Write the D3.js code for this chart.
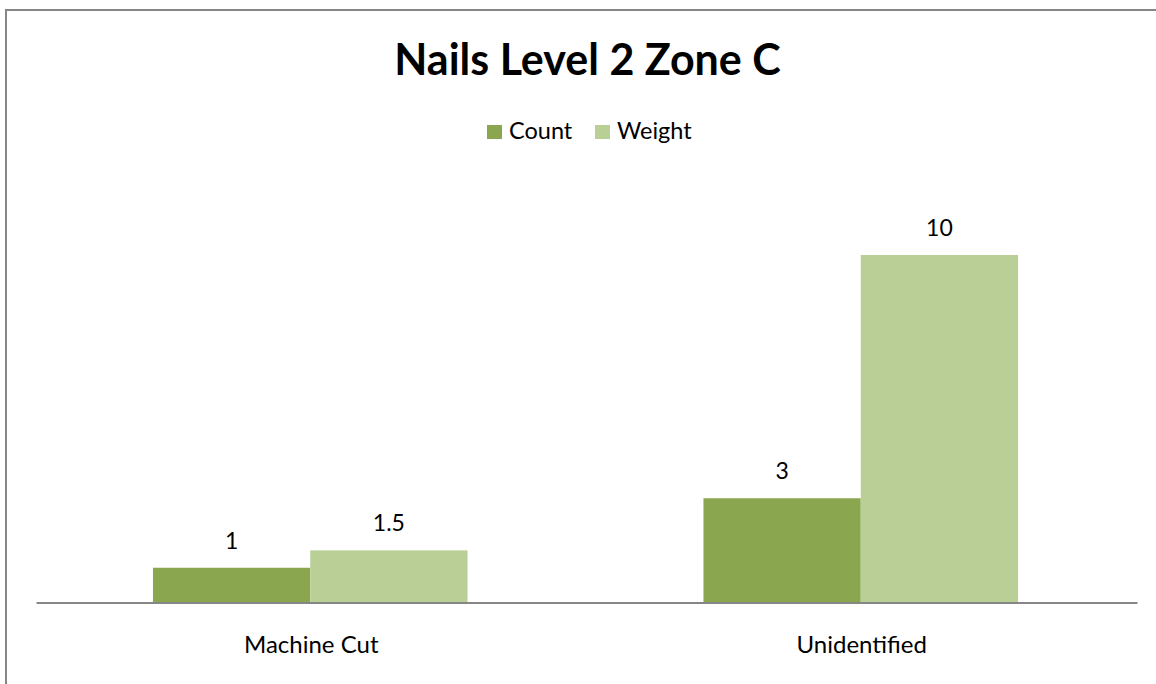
<!DOCTYPE html>
<html>
<head>
<meta charset="utf-8">
<script src="https://cdn.jsdelivr.net/npm/d3@7"></script>
<style>
  html, body { margin: 0; padding: 0; background: #fff; }
  svg { display: block; }
  text { font-family: Lato, "Open Sans", sans-serif; fill: #000; }
</style>
</head>
<body>
<svg id="chart" width="1156" height="684"></svg>
<script>
// Data
const chartTitle = "Nails Level 2 Zone C";
const categories = ["Machine Cut", "Unidentified"];
const seriesNames = ["Count", "Weight"];
const countValues = [1, 3];
const weightValues = [1.5, 10];
const seriesColors = ["#8aa64e", "#bacf96"];

const svg = d3.select("#chart");
const W = 1156, H = 684;

// Chart frame (extends past the right and bottom edges)
svg.append("rect")
  .attr("x", 6).attr("y", 10)
  .attr("width", W + 20).attr("height", H + 20)
  .attr("fill", "#fff")
  .attr("stroke", "#868686").attr("stroke-width", 2);

// Plot area
const plot = { left: 36, right: 1137, top: 185.5, bottom: 602.5 };

const x0 = d3.scaleBand()
  .domain(categories)
  .range([plot.left, plot.right])
  .paddingInner(0).paddingOuter(0);

// Two bars per category, gap of 1.5 bar widths split on both sides
const barW = x0.bandwidth() / 3.5;
const x1 = d3.scaleBand()
  .domain(seriesNames)
  .range([0, barW * 2]);

const y = d3.scaleLinear()
  .domain([0, 12])
  .range([plot.bottom, plot.top]);

const rows = categories.map((c, i) => ({
  category: c,
  values: [
    { series: seriesNames[0], value: countValues[i], color: seriesColors[0] },
    { series: seriesNames[1], value: weightValues[i], color: seriesColors[1] }
  ]
}));

const groups = svg.append("g").selectAll("g")
  .data(rows)
  .join("g")
  .attr("transform", d => `translate(${x0(d.category) + (x0.bandwidth() - barW * 2) / 2 - 1},0)`);

groups.selectAll("rect")
  .data(d => d.values)
  .join("rect")
  .attr("x", d => x1(d.series))
  .attr("y", d => y(d.value))
  .attr("width", x1.bandwidth())
  .attr("height", d => y(0) - y(d.value))
  .attr("fill", d => d.color);

// Value labels
groups.selectAll("text.value")
  .data(d => d.values)
  .join("text")
  .attr("class", "value")
  .attr("x", d => x1(d.series) + x1.bandwidth() / 2)
  .attr("y", d => y(d.value) - 19)
  .attr("text-anchor", "middle")
  .style("font-size", "23px")
  .text(d => d.value);

// Category axis
const xAxis = svg.append("g")
  .attr("transform", `translate(0,${plot.bottom})`)
  .call(d3.axisBottom(x0).tickSize(0).tickPadding(0));
xAxis.select(".domain")
  .attr("stroke", "#868686").attr("stroke-width", 2);
xAxis.selectAll(".tick text")
  .attr("dy", null)
  .attr("y", 50.5)
  .style("font-size", "24px")
  .style("font-family", "Lato, 'Open Sans', sans-serif")
  .attr("fill", "#000");

// Title
svg.append("text")
  .attr("x", 587.5)
  .attr("y", 75)
  .attr("text-anchor", "middle")
  .style("font-size", "43px")
  .style("font-weight", "bold")
  .text(chartTitle);

// Legend
const legend = svg.append("g");
const legendItems = [
  { name: seriesNames[0], color: seriesColors[0], x: 487 },
  { name: seriesNames[1], color: seriesColors[1], x: 595 }
];
const li = legend.selectAll("g")
  .data(legendItems)
  .join("g")
  .attr("transform", d => `translate(${d.x},125)`);
li.append("rect")
  .attr("width", 15).attr("height", 14)
  .attr("fill", d => d.color);
li.append("text")
  .attr("x", 22).attr("y", 14)
  .style("font-size", "23.5px")
  .text(d => d.name);
</script>
</body>
</html>
